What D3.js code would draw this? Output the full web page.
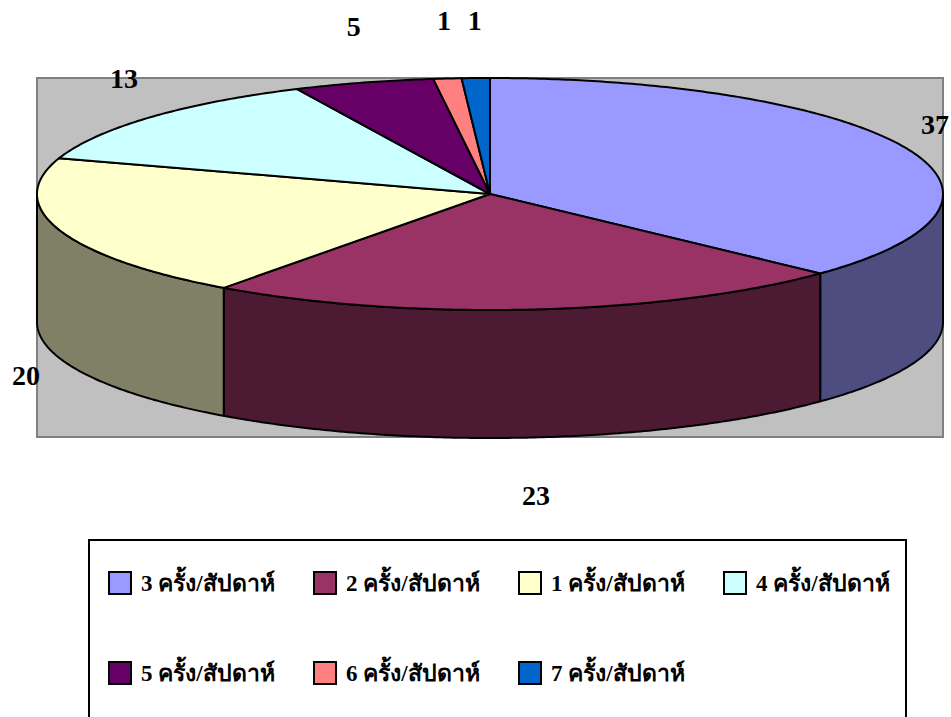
<!DOCTYPE html>
<html>
<head>
<meta charset="utf-8">
<script src="https://cdn.jsdelivr.net/npm/d3@7"></script>
<style>
  body { margin: 0; background: #fff; }
  svg { display: block; }
</style>
</head>
<body>
<div id="chart"></div>
<script>
const categories = [
  "3 ครั้ง/สัปดาห์",
  "2 ครั้ง/สัปดาห์",
  "1 ครั้ง/สัปดาห์",
  "4 ครั้ง/สัปดาห์",
  "5 ครั้ง/สัปดาห์",
  "6 ครั้ง/สัปดาห์",
  "7 ครั้ง/สัปดาห์",
];
const values = [37, 23, 20, 13, 5, 1, 1];
const colors = ["#9999FF", "#993366", "#FFFFCC", "#CCFFFF", "#660066", "#FF8080", "#0066CC"];

const width = 951;
const height = 717;
const font = "'Liberation Serif', 'Times New Roman', serif";

// pie geometry (tilted ellipse + wall depth)
const cx = 490, cy = 194, rx = 453, ry = 116, depth = 128;

const color = d3.scaleOrdinal().domain(categories).range(colors);
const sideColor = (c) => {
  const r = d3.rgb(c);
  return d3.rgb(r.r * 0.5, r.g * 0.5, r.b * 0.5).formatHex();
};

const rows = categories.map((c, i) => ({ cat: c, value: values[i] }));
const arcs = d3.pie().sort(null).value((d) => d.value)(rows);

const px = (a) => cx + rx * Math.sin(a);
const py = (a, dz = 0) => cy - ry * Math.cos(a) + dz;

function rim(a0, a1, dz) {
  const n = Math.max(2, Math.ceil(Math.abs(a1 - a0) / 0.01));
  return d3.range(n + 1).map((i) => {
    const a = a0 + ((a1 - a0) * i) / n;
    return [px(a), py(a, dz)];
  });
}

const svg = d3
  .select("#chart")
  .append("svg")
  .attr("width", width)
  .attr("height", height);

// plot area
svg
  .append("rect")
  .attr("x", 37)
  .attr("y", 78)
  .attr("width", 906)
  .attr("height", 359)
  .attr("fill", "#C0C0C0")
  .attr("stroke", "#808080")
  .attr("stroke-width", 2);

const line = d3.line();

// outer walls, only the front half is visible
const walls = svg.append("g");
arcs.forEach((d) => {
  const a0 = Math.max(d.startAngle, Math.PI / 2);
  const a1 = Math.min(d.endAngle, Math.PI * 1.5);
  if (a1 <= a0) return;
  const pts = rim(a0, a1, 0).concat(rim(a1, a0, depth));
  walls
    .append("path")
    .attr("d", line(pts) + "Z")
    .attr("fill", sideColor(color(d.data.cat)))
    .attr("stroke", "#000")
    .attr("stroke-width", 2)
    .attr("stroke-linejoin", "round");
});

// top faces
const tops = svg.append("g");
arcs.forEach((d) => {
  const pts = [[cx, cy]].concat(rim(d.startAngle, d.endAngle, 0));
  tops
    .append("path")
    .attr("d", line(pts) + "Z")
    .attr("fill", color(d.data.cat))
    .attr("stroke", "#000")
    .attr("stroke-width", 2)
    .attr("stroke-linejoin", "round");
});

// value labels outside the pie
svg
  .append("g")
  .selectAll("text")
  .data(arcs)
  .join("text")
  .attr("x", (d) => {
    const m = (d.startAngle + d.endAngle) / 2;
    return Math.min(width - 16, cx + (rx + 35) * Math.sin(m));
  })
  .attr("y", (d) => {
    const m = (d.startAngle + d.endAngle) / 2;
    const c = Math.cos(m);
    return cy - ry * 1.5 * c + (c < 0 ? depth : 0);
  })
  .attr("text-anchor", "middle")
  .attr("dominant-baseline", "central")
  .attr("font-family", font)
  .attr("font-weight", "bold")
  .attr("font-size", "28px")
  .text((d) => d.value);

// legend
const legend = svg.append("g");
legend
  .append("rect")
  .attr("x", 89)
  .attr("y", 540)
  .attr("width", 817)
  .attr("height", 200)
  .attr("fill", "#fff")
  .attr("stroke", "#000")
  .attr("stroke-width", 2);

const item = legend
  .selectAll("g.item")
  .data(categories)
  .join("g")
  .attr("class", "item")
  .attr("transform", (d, i) => `translate(${108 + (i % 4) * 205}, ${583 + Math.floor(i / 4) * 90})`);

item
  .append("rect")
  .attr("x", 1)
  .attr("y", -11)
  .attr("width", 22)
  .attr("height", 22)
  .attr("fill", (d) => color(d))
  .attr("stroke", "#000")
  .attr("stroke-width", 2);

item
  .append("text")
  .attr("x", 33)
  .attr("y", 0)
  .attr("dominant-baseline", "central")
  .attr("font-family", font)
  .attr("font-weight", "bold")
  .attr("font-size", "23px")
  .text((d) => d);
</script>
</body>
</html>
